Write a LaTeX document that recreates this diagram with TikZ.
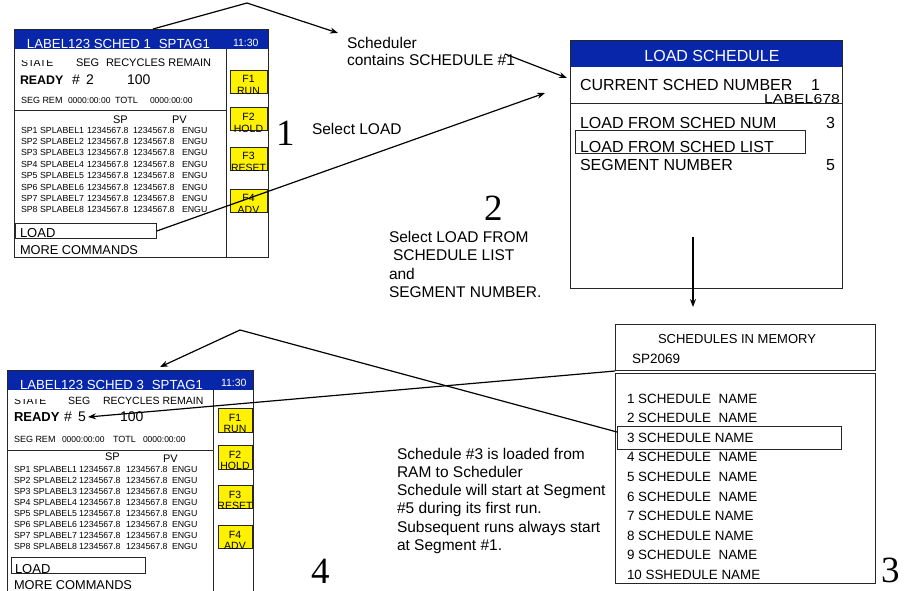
\documentclass[tikz,border=0pt]{standalone}
\usepackage{fontspec}
\setmainfont{Liberation Sans}
\newfontfamily\bigserif{Liberation Serif}
\usetikzlibrary{arrows.meta}
\definecolor{hdrblue}{RGB}{8,38,170}
\begin{document}
\begin{tikzpicture}[x=1pt,y=-1pt,
  tx/.style={anchor=base west,inner sep=0pt,outer sep=0pt,font=\fontsize{#1}{#1}\selectfont},
  tc/.style={anchor=base,inner sep=0pt,outer sep=0pt,font=\fontsize{#1}{#1}\selectfont},
  te/.style={anchor=base east,inner sep=0pt,outer sep=0pt,font=\fontsize{#1}{#1}\selectfont},
  bignum/.style={anchor=base west,inner sep=0pt,outer sep=0pt,font=\bigserif\fontsize{37}{37}\selectfont},
  scr/.style={draw=black!85,line width=0.9pt},
  selbox/.style={draw=black!85,line width=0.9pt,anchor=north west,inner sep=0pt},
  btn/.style={draw=black!85,line width=0.8pt,fill=yellow,inner sep=0pt},
  arr/.style={line width=1.2pt,-{Stealth[length=8pt,width=6pt]}},
  ln/.style={line width=1.2pt}]
\useasboundingbox (0,0) rectangle (907,590);
\clip (0,0) rectangle (907,590);

% ================= Screen 1 (top-left) =================
\fill[hdrblue] (14,29) rectangle (268,49);
\draw[scr] (14,29) rectangle (268,257);
\draw[scr] (226,49) -- (226,257);
\draw[scr] (14,110) -- (226,110);
\node[tx=13.2,text=white] (h1) at (27,48.5) {LABEL123 SCHED 1\hspace{0.6em}SPTAG1};
\node[tx=10.5,text=white] (h1t) at (233,46) {11:30};
\begin{scope}
  \clip (14,60.5) rectangle (70,72);
  \node[tx=10.5] (st1) at (21,66) {STATE};
\end{scope}
\node[tx=11] (sg1) at (76,66) {SEG};
\node[tx=11] (rr1) at (106,66) {RECYCLES REMAIN};
\node[tx=12.4] (rd1) at (20,84) {\bfseries READY};
\node[tx=14] (n1) at (72,84) {\#\hspace{0.45em}2};
\node[tx=14] (c1) at (127,84) {100};
\node[tx=9] (sr1) at (21,103) {SEG REM};
\node[tx=8.5] (sr1a) at (68,103) {0000:00:00};
\node[tx=9] (tl1) at (115,103) {TOTL};
\node[tx=8.5] (sr1b) at (150,103) {0000:00:00};
\node[tx=11] (sp1h) at (113,123) {SP};
\node[tx=11] (pv1h) at (172,123) {PV};
\foreach \i in {1,...,8}{
  \pgfmathsetmacro\yy{133+(\i-1)*11.4}
  \node[tx=8.8] (t1l\i) at (21,\yy) {SP\i\ SPLABEL\i};
  \node[tx=8.8] (t1a\i) at (87,\yy) {1234567.8};
  \node[tx=8.8] (t1b\i) at (133,\yy) {1234567.8};
  \node[tx=8.8] (t1c\i) at (182,\yy) {ENGU};
}
\node[btn,minimum width=37pt,minimum height=23pt] (b11) at (248.5,81.5) {};
\node[btn,minimum width=37pt,minimum height=23pt] (b12) at (248.5,119) {};
\node[btn,minimum width=37pt,minimum height=23pt] (b13) at (248.5,158.5) {};
\node[btn,minimum width=37pt,minimum height=23pt] (b14) at (248.5,200.5) {};
\node[tc=10.5] (b11a) at (248.5,82.5) {F1};
\node[tc=10.5] (b11b) at (248.5,94.5) {RUN};
\node[tc=10.5] (b12a) at (248.5,120) {F2};
\node[tc=10.5] (b12b) at (248.5,132) {HOLD};
\node[tc=10.5] (b13a) at (248.5,159.5) {F3};
\node[tc=10.5] (b13b) at (248.5,171.5) {RESET};
\node[tc=10.5] (b14a) at (248.5,201.5) {F4};
\node[tc=10.5] (b14b) at (248.5,213) {ADV};
\node[selbox,minimum width=141pt,minimum height=15pt] (lb1) at (15,223) {};
\node[tx=13] (ld1) at (20,237) {LOAD};
\node[tx=12.8] (mc1) at (20,254) {MORE COMMANDS};

% ================= Screen 2 (top-right) =================
\fill[hdrblue] (570,40) rectangle (842,67);
\draw[scr] (570,40) rectangle (842,288);
\node[tc=16,text=white] (h2) at (712,61) {LOAD SCHEDULE};
\node[tx=16] (cs) at (580,90) {CURRENT SCHED NUMBER};
\node[tx=16] (cs1) at (811,90) {1};
\node[te=13] (lab) at (840,103) {\scalebox{1.22}[1]{LABEL678}};
\draw[scr] (570,103.5) -- (842,103.5);
\node[tx=16] (lfn) at (580,128) {LOAD FROM SCHED NUM};
\node[tx=16] (lfn3) at (826,128) {3};
\node[selbox,minimum width=230pt,minimum height=23pt] (lfl) at (575,130) {};
\node[tx=16] (lflt) at (580,152) {LOAD FROM SCHED LIST};
\node[tx=16] (sn) at (580,170) {SEGMENT NUMBER};
\node[tx=16] (sn5) at (826,170) {5};

% ================= Screen 3 (bottom-right) =================
\draw[scr] (615,324) rectangle (875,370);
\draw[scr] (615,373) rectangle (875,583);
\node[tc=13] (sim) at (737,343) {SCHEDULES IN MEMORY};
\node[tx=13.5] (sp2069) at (632,363) {SP2069};
\node[tx=13.4] (l1) at (627,403) {1 SCHEDULE\ \ NAME};
\node[tx=13.4] (l2) at (627,422.6) {2 SCHEDULE\ \ NAME};
\node[tx=13.4] (l3) at (627,442.2) {3 SCHEDULE NAME};
\node[tx=13.4] (l4) at (627,461.8) {4 SCHEDULE\ \ NAME};
\node[tx=13.4] (l5) at (627,481.4) {5 SCHEDULE\ \ NAME};
\node[tx=13.4] (l6) at (627,501) {6 SCHEDULE\ \ NAME};
\node[tx=13.4] (l7) at (627,520.6) {7 SCHEDULE NAME};
\node[tx=13.4] (l8) at (627,540.2) {8 SCHEDULE NAME};
\node[tx=13.4] (l9) at (627,559.8) {9 SCHEDULE\ \ NAME};
\node[tx=13.4] (l10) at (627,579.4) {10 SSHEDULE NAME};
\node[selbox,minimum width=224pt,minimum height=23pt] (sel3) at (617,426) {};

% ================= Screen 4 (bottom-left) =================
\fill[hdrblue] (7,370) rectangle (253,390);
\draw[scr] (7,370) rectangle (253,595);
\draw[scr] (213,390) -- (213,595);
\draw[scr] (7,450) -- (213,450);
\node[tx=13.2,text=white] (h4) at (20,389) {LABEL123 SCHED 3\hspace{0.6em}SPTAG1};
\node[tx=10.5,text=white] (h4t) at (221,386) {11:30};
\begin{scope}
  \clip (7,399) rectangle (60,410);
  \node[tx=10.5] (st4) at (14,404) {STATE};
\end{scope}
\node[tx=10.5] (sg4) at (68,404) {SEG};
\node[tx=10.5] (rr4) at (103,404) {RECYCLES REMAIN};
\node[tx=13] (rd4) at (14,421) {\bfseries READY};
\node[tx=14] (n4) at (64,421) {\#\hspace{0.45em}5};
\node[tx=14] (c4) at (120,421) {100};
\node[tx=9] (sr4) at (14,442) {SEG REM};
\node[tx=8.5] (sr4a) at (62,442) {0000:00:00};
\node[tx=9] (tl4) at (113,442) {TOTL};
\node[tx=8.5] (sr4b) at (143,442) {0000:00:00};
\node[tx=11] (sp4h) at (105,460) {SP};
\node[tx=11] (pv4h) at (163,462) {PV};
\foreach \i in {1,...,8}{
  \pgfmathsetmacro\yy{472+(\i-1)*11.1}
  \node[tx=8.8] (t4l\i) at (14,\yy) {SP\i\ SPLABEL\i};
  \node[tx=8.8] (t4a\i) at (79,\yy) {1234567.8};
  \node[tx=8.8] (t4b\i) at (126,\yy) {1234567.8};
  \node[tx=8.8] (t4c\i) at (172,\yy) {ENGU};
}
\node[btn,minimum width=34pt,minimum height=24pt] (b41) at (235,420) {};
\node[btn,minimum width=34pt,minimum height=24pt] (b42) at (235,457) {};
\node[btn,minimum width=34pt,minimum height=23pt] (b43) at (235,496.5) {};
\node[btn,minimum width=34pt,minimum height=23pt] (b44) at (235,536.5) {};
\node[tc=10.5] (b41a) at (235,421.5) {F1};
\node[tc=10.5] (b41b) at (235,432.5) {RUN};
\node[tc=10.5] (b42a) at (235,458.5) {F2};
\node[tc=10.5] (b42b) at (235,469.5) {HOLD};
\node[tc=10.5] (b43a) at (235,498.5) {F3};
\node[tc=10.5] (b43b) at (235,509.5) {RESET};
\node[tc=10.5] (b44a) at (235,538.5) {F4};
\node[tc=10.5] (b44b) at (235,549.5) {ADV};
\node[selbox,minimum width=134pt,minimum height=16pt] (lb4) at (11,557) {};
\node[tx=13] (ld4) at (15,573.5) {LOAD};
\node[tx=12.8] (mc4) at (14,589) {MORE COMMANDS};

% ================= Free texts =================
\node[tx=15.5] (sch1) at (347,48) {Scheduler};
\node[tx=15.5] (sch2) at (347,65) {contains SCHEDULE \#1};
\node[tx=15.5] (sl) at (312,134) {Select LOAD};
\node[tx=15.5] (s2a) at (389,242) {Select LOAD FROM};
\node[tx=15.5] (s2b) at (393,260.5) {SCHEDULE LIST};
\node[tx=15.5] (s2c) at (389,279) {and};
\node[tx=15.5] (s2d) at (389,297) {SEGMENT NUMBER.};
\node[tx=15.5] (m1) at (397,459) {Schedule \#3 is loaded from};
\node[tx=15.5] (m2) at (397,477.3) {RAM to Scheduler};
\node[tx=15.5] (m3) at (397,495.6) {Schedule will start at Segment};
\node[tx=15.5] (m4) at (397,513.9) {\#5 during its first run.};
\node[tx=15.5] (m5) at (397,532.2) {Subsequent runs always start};
\node[tx=15.5] (m6) at (397,550.5) {at Segment \#1.};
\node[bignum] (k1) at (276,145) {1};
\node[bignum] (k2) at (484,220) {2};
\node[bignum] (k3) at (881,582) {3};
\node[bignum] (k4) at (311,583) {4};

% ================= Connectors =================
\coordinate (a1s) at (153,29);
\coordinate (a1m) at (247,3);
\coordinate (a1e) at (338,33);
\draw[arr] (a1s) -- (a1m) -- (a1e);
\coordinate (a2s) at (505,54);
\coordinate (a2e) at (567,78);
\draw[arr] (a2s) -- (a2e);
\coordinate (a3e) at (545,93);
\draw[arr] (lb1.east) -- (a3e);
\coordinate (a4s) at (693,237);
\coordinate (a4e) at (693,307);
\draw[arr] (a4s) -- (a4e);
\coordinate (a5s) at (617,432);
\coordinate (a5m) at (240,330);
\coordinate (a5e) at (160,367);
\draw[arr] (a5s) -- (a5m) -- (a5e);
\coordinate (a6s) at (615,371);
\coordinate (a6e) at (88,417);
\draw[arr] (a6s) -- (a6e);
\end{tikzpicture}
\end{document}
